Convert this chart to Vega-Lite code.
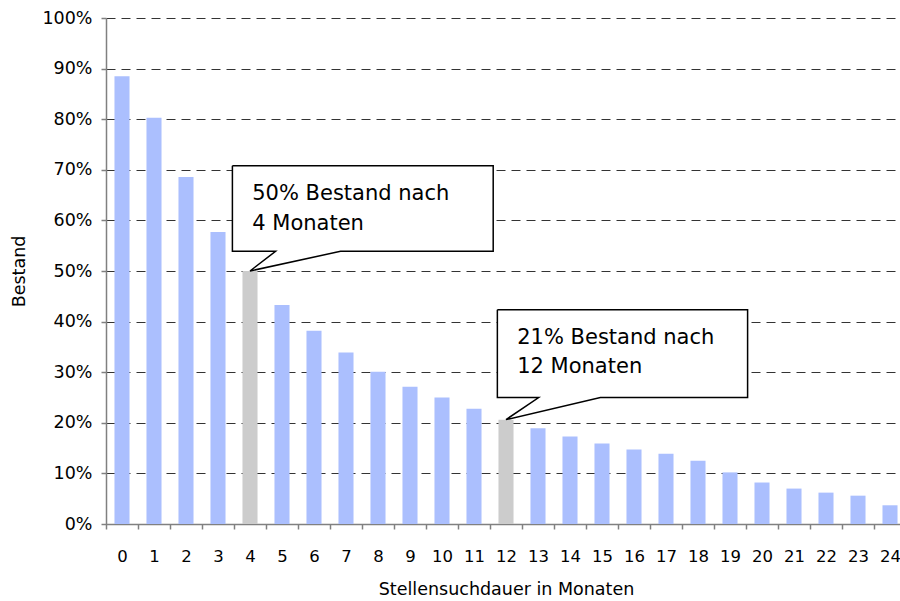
{
  "$schema": "https://vega.github.io/schema/vega-lite/v6.json",
  "width": 794,
  "height": 506,
  "autosize": {"type": "none"},
  "padding": {"left": 106, "top": 18, "right": 0, "bottom": 77},
  "background": "white",
  "config": {"view": {"stroke": null}, "font": "DejaVu Sans"},
  "datasets": {
    "bars": [
      {"Monat": 0, "Bestand": 0.885},
      {"Monat": 1, "Bestand": 0.803},
      {"Monat": 2, "Bestand": 0.686},
      {"Monat": 3, "Bestand": 0.577},
      {"Monat": 4, "Bestand": 0.5},
      {"Monat": 5, "Bestand": 0.433},
      {"Monat": 6, "Bestand": 0.382},
      {"Monat": 7, "Bestand": 0.339},
      {"Monat": 8, "Bestand": 0.301},
      {"Monat": 9, "Bestand": 0.271},
      {"Monat": 10, "Bestand": 0.25},
      {"Monat": 11, "Bestand": 0.228},
      {"Monat": 12, "Bestand": 0.206},
      {"Monat": 13, "Bestand": 0.189},
      {"Monat": 14, "Bestand": 0.173},
      {"Monat": 15, "Bestand": 0.159},
      {"Monat": 16, "Bestand": 0.147},
      {"Monat": 17, "Bestand": 0.139},
      {"Monat": 18, "Bestand": 0.125},
      {"Monat": 19, "Bestand": 0.102},
      {"Monat": 20, "Bestand": 0.082},
      {"Monat": 21, "Bestand": 0.07},
      {"Monat": 22, "Bestand": 0.062},
      {"Monat": 23, "Bestand": 0.056},
      {"Monat": 24, "Bestand": 0.037}
    ],
    "bubbles": [
      {"id": "A", "i": 1, "px": 3.95, "py": 0.708},
      {"id": "A", "i": 2, "px": 12.1, "py": 0.708},
      {"id": "A", "i": 3, "px": 12.1, "py": 0.539},
      {"id": "A", "i": 4, "px": 7.33, "py": 0.539},
      {"id": "A", "i": 5, "px": 4.5, "py": 0.5},
      {"id": "A", "i": 6, "px": 5.3, "py": 0.539},
      {"id": "A", "i": 7, "px": 3.95, "py": 0.539},
      {"id": "A", "i": 8, "px": 3.95, "py": 0.708},
      {"id": "B", "i": 1, "px": 12.23, "py": 0.4235},
      {"id": "B", "i": 2, "px": 20.05, "py": 0.4235},
      {"id": "B", "i": 3, "px": 20.05, "py": 0.2498},
      {"id": "B", "i": 4, "px": 15.45, "py": 0.2498},
      {"id": "B", "i": 5, "px": 12.5, "py": 0.2063},
      {"id": "B", "i": 6, "px": 13.52, "py": 0.2498},
      {"id": "B", "i": 7, "px": 12.23, "py": 0.2498},
      {"id": "B", "i": 8, "px": 12.23, "py": 0.4235}
    ],
    "labels": [
      {"px": 4.57, "py": 0.6407, "t": "50% Bestand nach"},
      {"px": 4.57, "py": 0.5814, "t": "4 Monaten"},
      {"px": 12.85, "py": 0.3564, "t": "21% Bestand nach"},
      {"px": 12.85, "py": 0.2991, "t": "12 Monaten"}
    ]
  },
  "layer": [
    {
      "data": {"name": "bars"},
      "mark": {"type": "bar", "width": {"band": 0.47}},
      "encoding": {
        "x": {
          "field": "Monat",
          "type": "ordinal",
          "scale": {"range": [0, 800], "paddingInner": 0, "paddingOuter": 0},
          "axis": {
            "title": "Stellensuchdauer in Monaten",
            "labelAngle": 0,
            "tickBand": "extent",
            "grid": false,
            "domainColor": "#808080",
            "domainWidth": 1.5,
            "tickColor": "#808080",
            "tickWidth": 1.5,
            "tickSize": 5,
            "labelFontSize": 16.5,
            "labelColor": "#000000",
            "labelPadding": 19,
            "titleFontSize": 17.5,
            "titleFontWeight": "normal",
            "titleColor": "#000000",
            "titlePadding": 16
          }
        },
        "y": {
          "field": "Bestand",
          "type": "quantitative",
          "title": "Bestand",
          "scale": {"domain": [0, 1]},
          "axis": {
            "values": [0, 0.1, 0.2, 0.3, 0.4, 0.5, 0.6, 0.7, 0.8, 0.9, 1],
            "format": ".0%",
            "grid": true,
            "gridDash": [9, 6],
            "gridColor": "#333333",
            "gridWidth": 1,
            "domainColor": "#808080",
            "domainWidth": 1.5,
            "tickColor": "#808080",
            "tickWidth": 1.5,
            "tickSize": 5,
            "labelFontSize": 17.5,
            "labelColor": "#000000",
            "labelPadding": 9,
            "titleFontSize": 17.5,
            "titleFontWeight": "normal",
            "titleColor": "#000000",
            "titlePadding": 13
          }
        },
        "color": {
          "condition": {"test": "datum.Monat == 4 || datum.Monat == 12", "value": "#cccccc"},
          "value": "#abbffe"
        }
      }
    },
    {
      "data": {"name": "bubbles"},
      "mark": {"type": "line", "fill": "white", "stroke": "black", "strokeWidth": 1.5, "strokeJoin": "miter"},
      "encoding": {
        "x": {"field": "px", "type": "quantitative", "scale": {"domain": [0, 25], "range": [0, 800], "nice": false, "zero": false}, "axis": null},
        "y": {"field": "py", "type": "quantitative", "title": "Bestand"},
        "detail": {"field": "id"},
        "order": {"field": "i"}
      }
    },
    {
      "data": {"name": "labels"},
      "mark": {"type": "text", "align": "left", "baseline": "alphabetic", "fontSize": 21, "font": "DejaVu Sans", "color": "#000000"},
      "encoding": {
        "x": {"field": "px", "type": "quantitative", "scale": {"domain": [0, 25], "range": [0, 800], "nice": false, "zero": false}, "axis": null},
        "y": {"field": "py", "type": "quantitative", "title": "Bestand"},
        "text": {"field": "t"}
      }
    }
  ],
  "resolve": {"scale": {"x": "independent"}}
}
